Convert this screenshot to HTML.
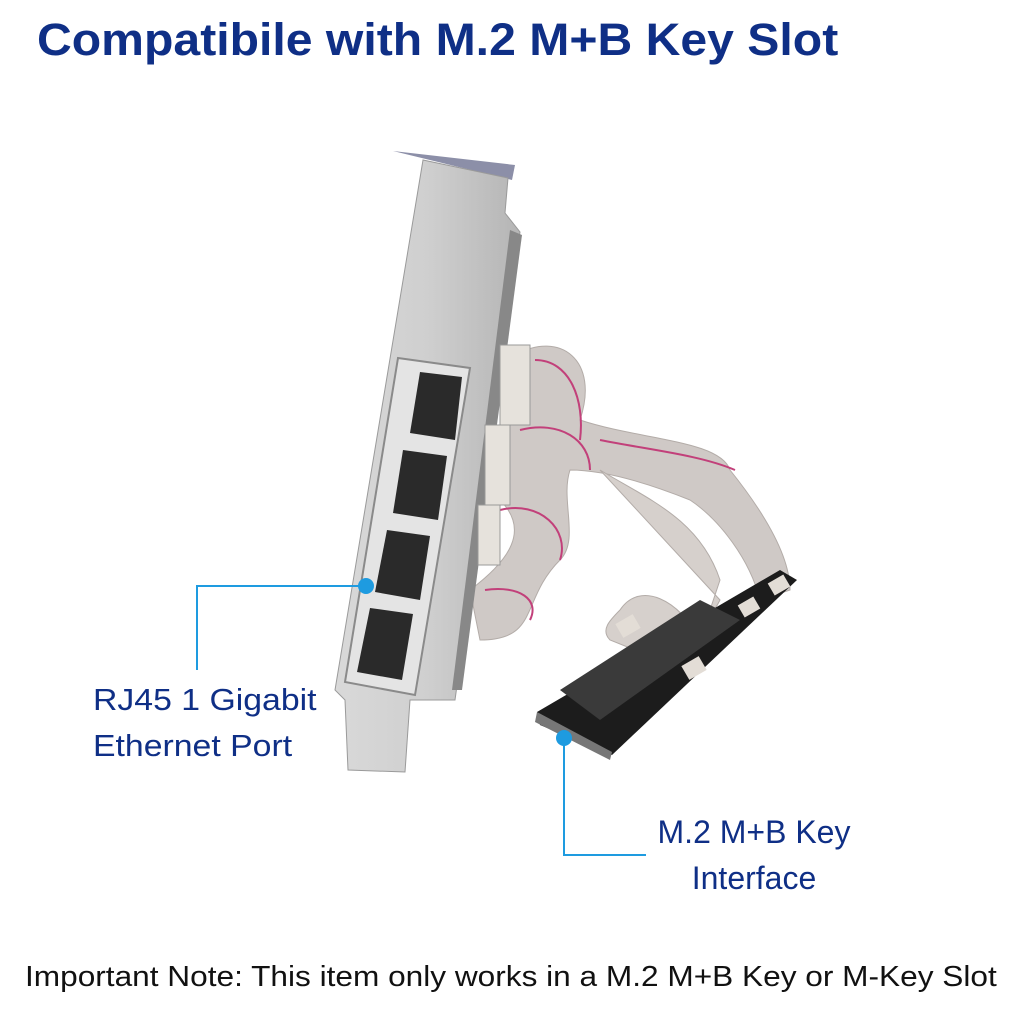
<!DOCTYPE html>
<html><head><meta charset="utf-8"><style>
html,body{margin:0;padding:0;background:#fff;}
body{width:1024px;height:1024px;position:relative;overflow:hidden;font-family:"Liberation Sans",sans-serif;}
.t{position:absolute;white-space:nowrap;transform-origin:0 0;}
</style></head><body>
<div class="t" style="left:37px;top:14px;font-size:45px;font-weight:bold;color:#0f2f86;transform:scaleX(1.07);">Compatibile with M.2 M+B Key Slot</div>
<svg width="1024" height="1024" style="position:absolute;left:0;top:0">
<defs>
<linearGradient id="br" x1="0" x2="1"><stop offset="0" stop-color="#d9d9d9"/><stop offset="0.5" stop-color="#cfcfcf"/><stop offset="1" stop-color="#b5b5b5"/></linearGradient>
</defs>
<g fill="#cfc9c6" stroke="#b3aca8" stroke-width="1">
<path d="M515 355 C560 330 600 360 580 420 C640 440 720 440 730 470 C770 520 790 560 790 590 L760 600 C750 560 720 520 690 500 C640 480 600 470 570 470 C560 500 580 540 560 560 C520 600 540 640 480 640 L470 590 C510 560 530 530 500 500 Z"/>
<path d="M600 470 C650 500 700 520 720 580 L700 640 C680 600 640 580 620 610 C610 620 600 630 610 640 L660 660 C690 640 710 620 720 600 Z" fill="#d6d0cc"/>
</g>
<path d="M535 360 C570 360 585 400 580 440 M600 440 C650 450 700 455 735 470 M520 430 C560 420 590 440 590 470 M500 510 C540 500 570 530 560 560 M485 590 C520 585 540 600 530 620" fill="none" stroke="#c2407a" stroke-width="2"/>
<path d="M393 151 L515 165 L512 180 Z" fill="#8c8fa8"/>
<path d="M423 160 L508 178 L505 213 L520 232 L455 700 L410 700 L405 772 L348 770 L345 700 L335 690 Z" fill="url(#br)" stroke="#9a9a9a" stroke-width="1"/>
<path d="M510 230 L522 235 L462 690 L452 690 Z" fill="#888"/>
<path d="M398 358 L470 368 L415 695 L345 682 Z" fill="#e4e4e4" stroke="#8a8a8a" stroke-width="2"/>
<g fill="#2a2a2a">
<path d="M420 372 L462 377 L455 440 L410 433 Z"/>
<path d="M403 450 L447 456 L438 520 L393 513 Z"/>
<path d="M387 530 L430 536 L420 600 L375 592 Z"/>
<path d="M370 608 L413 614 L402 680 L357 672 Z"/>
</g>
<g fill="#e6e2dc" stroke="#999"><rect x="500" y="345" width="30" height="80"/><rect x="485" y="425" width="25" height="80"/><rect x="478" y="505" width="22" height="60"/></g>
<path d="M537 712 L780 570 L797 580 L612 755 L540 725 Z" fill="#1c1c1c"/>
<path d="M560 690 L700 600 L740 620 L600 720 Z" fill="#3a3a3a"/>
<path d="M537 712 L612 752 L610 760 L535 722 Z" fill="#777"/>
<g fill="#e3ddd6"><rect x="618" y="618" width="20" height="16" transform="rotate(-30 628 626)"/><rect x="684" y="660" width="20" height="16" transform="rotate(-30 694 668)"/><rect x="740" y="600" width="18" height="14" transform="rotate(-30 749 607)"/><rect x="770" y="578" width="18" height="14" transform="rotate(-30 779 585)"/></g>
<g stroke="#1e9be0" stroke-width="2" fill="none"><path d="M366 586 L197 586 L197 670"/><path d="M564 738 L564 855 L646 855"/></g>
<g fill="#1e9be0"><circle cx="366" cy="586" r="8"/><circle cx="564" cy="738" r="8"/></g>
</svg>
<div class="t" style="left:93px;top:677px;font-size:31px;color:#0f2f86;line-height:46px;transform:scaleX(1.09);">RJ45 1 Gigabit<br>Ethernet Port</div>
<div class="t" style="left:650px;top:809px;font-size:32px;color:#0f2f86;line-height:46px;text-align:center;width:208px;">M.2 M+B Key<br>Interface</div>
<div class="t" style="left:25px;top:961px;font-size:29px;color:#111;transform:scaleX(1.09);">Important Note: This item only works in a M.2 M+B Key or M-Key Slot</div>
</body></html>
